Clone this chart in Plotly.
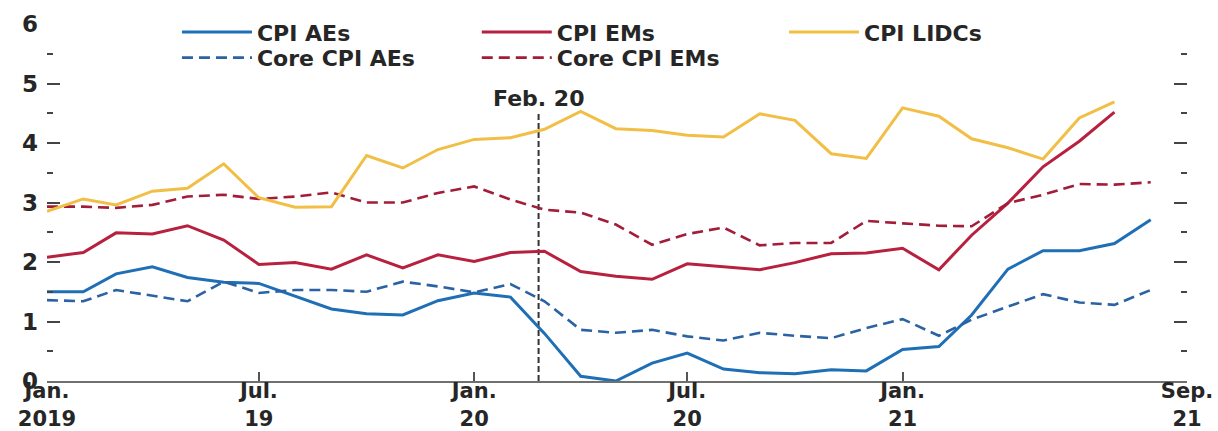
import plotly.graph_objects as go

months = ["2019-01-01", "2019-02-01", "2019-03-01", "2019-04-01", "2019-05-01", "2019-06-01",
          "2019-07-01", "2019-08-01", "2019-09-01", "2019-10-01", "2019-11-01", "2019-12-01",
          "2020-01-01", "2020-02-01", "2020-03-01", "2020-04-01", "2020-05-01", "2020-06-01",
          "2020-07-01", "2020-08-01", "2020-09-01", "2020-10-01", "2020-11-01", "2020-12-01",
          "2021-01-01", "2021-02-01", "2021-03-01", "2021-04-01", "2021-05-01", "2021-06-01",
          "2021-07-01", "2021-08-01"]

cpi_aes = [1.50, 1.50, 1.80, 1.92, 1.74, 1.66, 1.64, 1.42, 1.21, 1.13, 1.11, 1.35, 1.48, 1.41, 0.80, 0.08,
           0.00, 0.30, 0.47, 0.20, 0.14, 0.12, 0.19, 0.17, 0.53, 0.58, 1.11, 1.88, 2.19, 2.19, 2.31, 2.71]
core_cpi_aes = [1.36, 1.34, 1.53, 1.43, 1.34, 1.67, 1.48, 1.53, 1.53, 1.50, 1.67, 1.59, 1.49, 1.63, 1.34, 0.86,
                0.81, 0.86, 0.75, 0.68, 0.81, 0.76, 0.72, 0.89, 1.04, 0.76, 1.03, 1.25, 1.46, 1.32, 1.28, 1.53]
cpi_ems = [2.08, 2.16, 2.49, 2.47, 2.61, 2.37, 1.96, 1.99, 1.88, 2.12, 1.90, 2.12, 2.01, 2.16, 2.18, 1.84,
           1.76, 1.71, 1.97, 1.92, 1.87, 1.99, 2.14, 2.15, 2.23, 1.87, 2.45, 2.99, 3.60, 4.03, 4.52]
core_cpi_ems = [2.93, 2.93, 2.91, 2.96, 3.10, 3.13, 3.06, 3.10, 3.17, 3.00, 3.00, 3.16, 3.27, 3.05, 2.88, 2.83,
                2.63, 2.29, 2.47, 2.58, 2.28, 2.32, 2.32, 2.69, 2.65, 2.61, 2.60, 2.99, 3.13, 3.31, 3.30, 3.34]
cpi_lidcs = [2.85, 3.06, 2.96, 3.19, 3.24, 3.65, 3.08, 2.92, 2.93, 3.79, 3.58, 3.89, 4.06, 4.09, 4.23, 4.53,
             4.24, 4.21, 4.13, 4.10, 4.49, 4.38, 3.82, 3.74, 4.59, 4.45, 4.07, 3.92, 3.73, 4.42, 4.69]

x_tick_vals = ["2019-01-01", "2019-07-01", "2020-01-01", "2020-07-01", "2021-01-01", "2021-09-01"]
x_tick_text = ["Jan.<br>2019", "Jul.<br>19", "Jan.<br>20", "Jul.<br>20", "Jan.<br>21", "Sep.<br>21"]
y_tick_vals = [0, 1, 2, 3, 4, 5, 6]

event_date = "2020-02-25"
event_label = "Feb. 20"
event_top = 4.5

BLUE = "#1f6fb6"
BLUE_D = "#2a62a3"
RED = "#b8203f"
RED_D = "#a21d38"
GOLD = "#f1bf45"
FONT = "DejaVu Sans, Verdana, sans-serif"
TXT = "#262626"
DASH = "11px,6px"

fig = go.Figure()
fig.add_trace(go.Scatter(x=months[:len(cpi_aes)], y=cpi_aes, name="CPI AEs", mode="lines",
                         line=dict(color=BLUE, width=3), legend="legend"))
fig.add_trace(go.Scatter(x=months[:len(core_cpi_aes)], y=core_cpi_aes, name="Core CPI AEs", mode="lines",
                         line=dict(color=BLUE_D, width=2.6, dash=DASH), legend="legend4"))
fig.add_trace(go.Scatter(x=months[:len(cpi_ems)], y=cpi_ems, name="CPI EMs", mode="lines",
                         line=dict(color=RED, width=3), legend="legend2"))
fig.add_trace(go.Scatter(x=months[:len(core_cpi_ems)], y=core_cpi_ems, name="Core CPI EMs", mode="lines",
                         line=dict(color=RED_D, width=2.6, dash=DASH), legend="legend5"))
fig.add_trace(go.Scatter(x=months[:len(cpi_lidcs)], y=cpi_lidcs, name="CPI LIDCs", mode="lines",
                         line=dict(color=GOLD, width=3), legend="legend3"))

fig.add_shape(type="line", x0=event_date, x1=event_date, y0=0, y1=event_top, xref="x", yref="y",
              line=dict(color="#333333", width=2, dash="6px,3px"), layer="below")
fig.add_annotation(x=event_date, y=event_top, xref="x", yref="y", text=event_label, showarrow=False,
                   yanchor="bottom", yshift=0, font=dict(family=FONT, size=22, color=TXT, weight="bold"))

leg_common = dict(orientation="v", yanchor="top", xanchor="left", bgcolor="rgba(0,0,0,0)",
                  font=dict(family=FONT, size=22, color=TXT, weight="bold"), itemwidth=70)
row1_y = 1.036
row2_y = 0.964
fig.update_layout(
    width=1218, height=431,
    margin=dict(l=47, r=31, t=24, b=50, autoexpand=False),
    paper_bgcolor="white", plot_bgcolor="white",
    showlegend=True,
    legend=dict(x=0.114, y=row1_y, **leg_common),
    legend2=dict(x=0.377, y=row1_y, **leg_common),
    legend3=dict(x=0.6465, y=row1_y, **leg_common),
    legend4=dict(x=0.114, y=row2_y, **leg_common),
    legend5=dict(x=0.377, y=row2_y, **leg_common),
    xaxis=dict(range=["2019-01-01", "2021-09-01"], type="date", automargin=False,
               tickmode="array", tickvals=x_tick_vals, ticktext=x_tick_text,
               showgrid=False, zeroline=False, showline=True, linecolor="#707070", linewidth=2,
               ticks="inside", ticklen=9, tickwidth=2, tickcolor="#555555", ticklabelstandoff=-10,
               tickfont=dict(family=FONT, size=21, color=TXT, weight="bold")),
    yaxis=dict(range=[0, 6], tickmode="array", tickvals=y_tick_vals, automargin=False,
               showgrid=False, zeroline=False, showline=False, mirror="ticks",
               ticks="inside", ticklen=13, tickwidth=2, tickcolor="#444444", ticklabelstandoff=8,
               minor=dict(dtick=0.5, ticks="inside", ticklen=6, tickwidth=2, tickcolor="#444444"),
               tickfont=dict(family=FONT, size=23, color=TXT, weight="bold")),
)

fig.write_html("out.html", config={"displayModeBar": False},
               post_script="document.body.style.margin='0';document.body.style.overflow='hidden';")
